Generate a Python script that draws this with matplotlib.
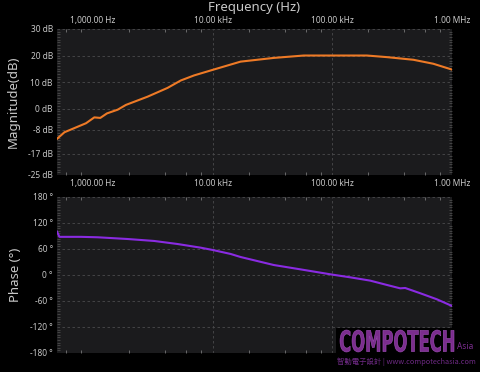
import matplotlib
matplotlib.use('Agg')
import matplotlib.pyplot as plt
from matplotlib.ticker import FixedLocator, MultipleLocator, NullFormatter
from matplotlib.textpath import TextPath
from matplotlib.patches import PathPatch, Rectangle
from matplotlib.font_manager import FontProperties
from matplotlib.transforms import Affine2D, IdentityTransform

# magnitude trace (Hz, dB)
mag_freq = [500, 577, 874, 1025, 1150, 1308, 1607, 1884, 2857, 4194, 5412,
            6985, 10000, 17100, 32400, 57700, 102500, 194600, 285600,
            476000, 698000, 1000000]
mag_db = [-11.4, -8.9, -5.5, -3.3, -3.5, -1.8, -0.4, 1.4, 4.5, 7.8, 10.6,
          12.5, 14.6, 17.7, 19.1, 20.0, 20.0, 20.0, 19.4, 18.4, 16.9, 14.7]

# phase trace (Hz, degrees)
ph_freq = [500, 524, 794, 1094, 1946, 3243, 5077, 7943, 10000, 14130, 17100,
           32400, 54100, 100600, 141000, 207000, 285600, 369000, 406000,
           541000, 746000, 1000000]
ph_deg = [100, 88, 88, 87, 83, 78.5, 71.5, 63, 57.7, 48.5, 41.5,
          23, 13, 0.7, -5.4, -13, -23, -30.8, -30, -42, -56, -71.5]

freq_ticks = [1e3, 1e4, 1e5, 1e6]
freq_labels = ['1,000.00 Hz', '10.00 kHz', '100.00 kHz', '1.00 MHz']
grid_freqs = [1e4, 1e5]
mag_ticks = [30, 20, 10, 0, -8, -17, -25]
mag_labels = ['30 dB', '20 dB', '10 dB', '0 dB', '-8 dB', '-17 dB', '-25 dB']
ph_ticks = [180, 120, 60, 0, -60, -120, -180]
ph_labels = ['180 °', '120 °', '60 °', '0 °', '-60 °', '-120 °', '-180 °']

plt.rcParams['font.family'] = ['Noto Sans', 'DejaVu Sans']
txt = '#c8c8c8'
face = '#1b1b1d'
grid = '#4a4a4c'

fig = plt.figure(figsize=(4.81, 3.72), dpi=100, facecolor='black')
ax1 = fig.add_axes([0.1185, 0.5296, 0.8212, 0.3925])
ax2 = fig.add_axes([0.1185, 0.0511, 0.8212, 0.4194])

minor_x = [m * 10 ** d for d in range(2, 6) for m in (2, 4, 6, 8)]

for ax in (ax1, ax2):
    ax.set_facecolor(face)
    ax.set_xscale('log')
    ax.set_xlim(500, 1e6)
    for s in ax.spines.values():
        s.set_visible(False)
    ax.xaxis.set_major_locator(FixedLocator(freq_ticks))
    ax.xaxis.set_minor_locator(FixedLocator(minor_x))
    ax.xaxis.set_minor_formatter(NullFormatter())
    ax.tick_params(axis='both', which='major', length=0, labelsize=6,
                   colors=txt, pad=3)
    ax.tick_params(axis='x', which='minor', direction='in', length=2.5,
                   width=0.6, color='#777777', top=True, bottom=True)
    ax.tick_params(axis='y', which='minor', direction='in', length=2.5,
                   width=0.5, color='#555555', left=True, right=True)
    ax.grid(True, axis='y', which='major', color=grid,
            linestyle=(0, (3, 3)), linewidth=0.6)
    for f in grid_freqs:
        ax.axvline(f, color=grid, linestyle=(0, (3, 3)), linewidth=0.6,
                   zorder=0.5)

ax1.plot(mag_freq, mag_db, color='#ee7a26', linewidth=1.5)
ax1.set_ylim(-25, 30)
ax1.set_yticks(mag_ticks, mag_labels)
ax1.yaxis.set_minor_locator(MultipleLocator(1))
ax1.set_xticks(freq_ticks, freq_labels)
ax1.tick_params(axis='x', which='major', labeltop=True, labelbottom=True)
ax1.set_ylabel('Magnitude(dB)', color=txt, fontsize=9.5, labelpad=6)
ax1.set_title('Frequency (Hz)', color=txt, fontsize=9.5, pad=13)

ax2.plot(ph_freq, ph_deg, color='#8a2be2', linewidth=1.5)
ax2.set_ylim(-180, 180)
ax2.set_yticks(ph_ticks, ph_labels)
ax2.yaxis.set_minor_locator(MultipleLocator(6))
ax2.tick_params(axis='x', which='major', labelbottom=False)
ax2.set_ylabel('Phase (°)', color=txt, fontsize=9.5, labelpad=6)

# watermark (condensed logo drawn as a stretched text path, in pixels)
fig.patches.append(Rectangle((336, 0), 145, 44, transform=IdentityTransform(),
                             facecolor='black', edgecolor='none', zorder=5))
logo = TextPath((0, 0), 'COMPOTECH', size=10,
                prop=FontProperties(family='DejaVu Sans', weight='bold'))
bb = logo.get_extents()
tr = (Affine2D().translate(-bb.x0, -bb.y0)
      .scale(114 / bb.width, 22 / bb.height).translate(340, 20))
fig.patches.append(PathPatch(logo, transform=tr + IdentityTransform(),
                             facecolor='#7b2d8e', edgecolor='#a050b8',
                             linewidth=0.4, zorder=6))
fig.text(0.950, 0.056, 'Asia', color='#7b2d8e', fontsize=6,
         fontweight='bold', va='bottom', ha='left', zorder=6)
fig.text(0.700, 0.016, '智動電子設計 | www.compotechasia.com', color='#6e2a84',
         fontsize=5.3, family=['Noto Sans CJK TC', 'DejaVu Sans'],
         va='bottom', ha='left', zorder=6)

fig.savefig('out.png', dpi=100, facecolor='black')
